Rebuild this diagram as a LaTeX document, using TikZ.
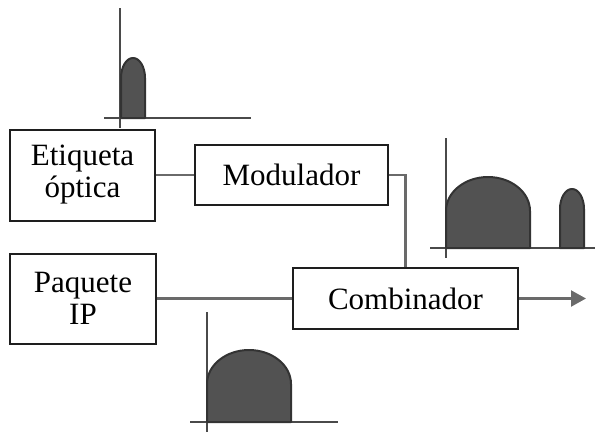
\documentclass[tikz,border=0pt]{standalone}
\usepackage{fontspec}
\setmainfont{Liberation Serif}
\usetikzlibrary{arrows.meta}
\definecolor{boxline}{HTML}{1E1E1E}
\definecolor{conn}{HTML}{6A6A6A}
\definecolor{axis}{HTML}{4A4A4A}
\definecolor{pulsefill}{HTML}{525252}
\definecolor{pulseline}{HTML}{333333}
\tikzset{
  blk/.style={draw=boxline, line width=2pt, rectangle, inner sep=0pt, align=center,
    font=\fontsize{31}{32}\selectfont},
  conline/.style={draw=conn, line width=2.2pt},
  axisline/.style={draw=axis, line width=1.6pt},
  pulse/.style={fill=pulsefill, draw=pulseline, line width=2pt, line join=round},
}
\begin{document}
\begin{tikzpicture}[x=1pt, y=-1pt]
\useasboundingbox (0,0) rectangle (595,432);
% axes
\draw[axisline] (120,8) -- (120,128);
\draw[axisline] (104,118) -- (251,118);
\draw[axisline] (446,138) -- (446,258);
\draw[axisline] (430,248) -- (595,248);
\draw[axisline] (207,312) -- (207,432);
\draw[axisline] (190,422) -- (338,422);
% pulses
\draw[pulse] (121,118) -- (121,78) arc[start angle=180, end angle=360, x radius=12, y radius=20] -- (145,118) -- cycle;
\draw[pulse] (446,248) -- (446,211) arc[start angle=180, end angle=360, x radius=42, y radius=34] -- (530,248) -- cycle;
\draw[pulse] (560,248) -- (560,209) arc[start angle=180, end angle=360, x radius=12, y radius=20] -- (584,248) -- cycle;
\draw[pulse] (207,422) -- (207,384) arc[start angle=180, end angle=360, x radius=42, y radius=34] -- (291,422) -- cycle;
% blocks
\node[blk, minimum width=145pt, minimum height=91pt] (etq) at (82.5,175) {Etiqueta\\óptica};
\node[blk, minimum width=193pt, minimum height=60pt] (mod) at (291.5,175) {Modulador};
\node[blk, minimum width=146pt, minimum height=90pt] (paq) at (83,298.5) {Paquete\\IP};
\node[blk, minimum width=225pt, minimum height=61pt] (comb) at (405.5,298.5) {Combinador};
\coordinate (out) at (586,298.5);
% connectors
\draw[conline] (etq.east) -- (mod.west);
\draw[conline] (mod.east) -| (comb.north);
\draw[conline] (paq.east) -- (comb.west);
\draw[conline, -{Triangle[length=15pt, width=16pt]}] (comb.east) -- (out);
\end{tikzpicture}
\end{document}
